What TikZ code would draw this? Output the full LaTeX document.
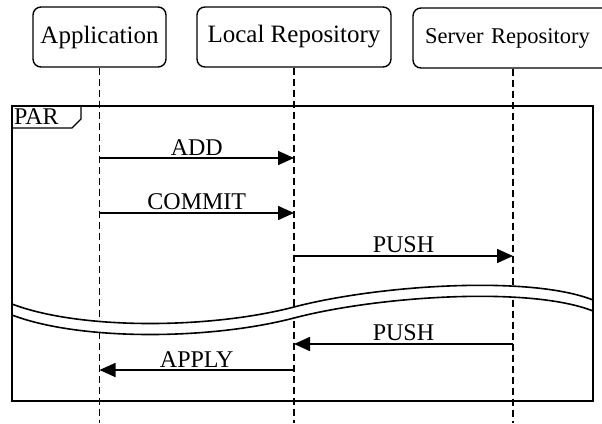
\documentclass[tikz,border=0pt]{standalone}
\usepackage{fontspec}
\setmainfont{Liberation Serif}
\usetikzlibrary{positioning,arrows.meta}

\begin{document}
\begin{tikzpicture}[
    x=1pt, y=-1pt,
    font={\fontsize{24}{28}\selectfont},
    actor/.style={draw,rounded corners=8pt,line width=1.4pt,minimum height=60pt,inner sep=0pt,font={\fontsize{25}{29}\selectfont}},
    life/.style={line width=1.6pt,dash pattern=on 7pt off 4pt},
    msg/.style={line width=1.6pt,-{Triangle[length=16pt,width=14pt]}},
    lbl/.style={above=0pt,inner sep=2pt},
    wave/.style={line width=1.6pt},
]
    \useasboundingbox (0,0) rectangle (602,423);

    \node[actor,minimum width=133pt] at (99.5,37) (app) {Application};
    \node[actor,minimum width=194pt] at (294,37) (localrepo) {Local Repository};
    \node[actor,minimum width=200pt,text width=176pt,align=left,font={\fontsize{22.5}{27}\selectfont}] at (513,38) (serverrepo) {Server Repository};

    \coordinate (append) at (99.5,423);
    \coordinate (localend) at (294,423);
    \coordinate (serverend) at (513,423);

    \draw[life] (app) -- (append);
    \draw[life] (localrepo) -- (localend);
    \draw[life] (serverrepo) -- (serverend);

    % message rows
    \coordinate (add1) at (99.5,158);   \coordinate (add2) at (294,158);
    \coordinate (commit1) at (99.5,213); \coordinate (commit2) at (294,213);
    \coordinate (push1) at (294,256);   \coordinate (push2) at (513,256);
    \coordinate (back1) at (513,344);   \coordinate (back2) at (294,344);
    \coordinate (apply1) at (294,370);  \coordinate (apply2) at (99.5,370);

    % break
    \fill[white] (12,304) .. controls (80,330) and (210,329) .. (294,307)
        .. controls (378,285) and (530,275) .. (593,300)
        -- (593,311) .. controls (530,286) and (378,296) .. (294,318)
        .. controls (210,340) and (80,341) .. (12,315) -- cycle;
    \draw[wave] (12,304) .. controls (80,330) and (210,329) .. (294,307)
        .. controls (378,285) and (530,275) .. (593,300);
    \draw[wave] (12,315) .. controls (80,341) and (210,340) .. (294,318)
        .. controls (378,296) and (530,286) .. (593,311);

    % frame
    \draw[line width=1.4pt] (12,106) rectangle (593,401);
    \draw[line width=1.4pt] (12,128) -- (72,128) -- (81,119) -- (81,106);
    \node[anchor=west,inner sep=0pt] at (14,117) (par) {PAR};

    \draw[msg] (add1) -- (add2) node[midway,lbl] (addlbl) {ADD};
    \draw[msg] (commit1) -- (commit2) node[midway,lbl] (commitlbl) {COMMIT};
    \draw[msg] (push1) -- (push2) node[midway,lbl] (pushlbl) {PUSH};
    \draw[msg] (back1) -- (back2) node[midway,lbl] (backlbl) {PUSH};
    \draw[msg] (apply1) -- (apply2) node[midway,lbl] (applylbl) {APPLY};

\end{tikzpicture}
\end{document}
